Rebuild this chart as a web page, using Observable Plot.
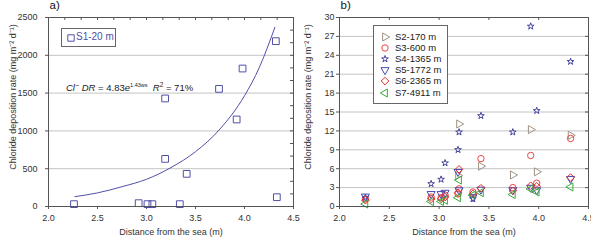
<!DOCTYPE html>
<html>
<head>
<meta charset="utf-8">
<script src="https://cdn.jsdelivr.net/npm/d3@7"></script>
<script src="https://cdn.jsdelivr.net/npm/@observablehq/plot@0.6"></script>
<style>
  body { margin: 0; background: #fff; }
  #wrap { position: relative; width: 591px; height: 240px; display: flex; font-family: "Liberation Sans", Arial, sans-serif; }
  .legend { position: absolute; border: 1px solid #666; background: #fff; box-sizing: border-box; }
  .lrow { position: absolute; font-size: 9.5px; line-height: 1; white-space: nowrap; }
  .eq { position: absolute; font-size: 9.5px; white-space: nowrap; color: #222; }
  .eq sup { font-size: 5.5px; vertical-align: 4px; }
</style>
</head>
<body>
<div id="wrap"></div>
<script>
// ---------- Panel a data ----------
const xA = [2.26, 2.92, 3.01, 3.06, 3.19, 3.19, 3.34, 3.41, 3.74, 3.92, 3.98, 4.32, 4.33];
const s1 = [31, 44, 31, 31, 1429, 630, 31, 432, 1556, 1151, 1825, 2187, 123];
// fitted curve
const fitX = [2.27, 2.5, 2.75, 3.0, 3.25, 3.5, 3.75, 4.0, 4.15, 4.31];
const fitY = [130, 180, 262, 360, 515, 725, 1025, 1465, 1835, 2370];
const yTicksA = [0, 500, 1000, 1500, 2000, 2500];

// ---------- Panel b data ----------
const xB = [2.26, 2.92, 3.02, 3.06, 3.19, 3.20, 3.34, 3.42, 3.74, 3.92, 3.98, 4.32];
const s2 = [null, null, null, null, 4.9, 13.1, null, 6.4, 5.0, 12.2, 5.5, 11.3];
const s3 = [1.2, 1.5, 1.4, 1.8, 2.0, 2.8, 2.3, 7.6, 3.0, 8.1, 3.7, 10.8];
const s4 = [1.4, 3.6, 4.3, 6.9, 9.0, 11.8, 1.2, 14.4, 11.8, 28.6, 15.2, 23.0];
const s5 = [1.6, 2.0, 2.0, 2.2, 5.5, 2.6, 1.5, 2.7, 2.6, 3.0, 2.6, 4.4];
const s6 = [1.0, 1.2, 1.2, 1.5, 2.2, 5.9, 2.0, 2.9, 2.5, 3.3, 3.2, 4.6];
const s7 = [0.4, 0.8, 0.8, 1.0, 1.4, 4.2, 1.8, 2.2, 1.9, 2.8, 2.3, 3.1];
const seriesNames = ["S2-170 m", "S3-600 m", "S4-1365 m", "S5-1772 m", "S6-2365 m", "S7-4911 m"];
const seriesValues = [s2, s3, s4, s5, s6, s7];
const yTicksB = [0, 3, 6, 9, 12, 15, 18, 21, 24, 27, 30];
const xTicks = [2.0, 2.5, 3.0, 3.5, 4.0, 4.5];

// ---------- styles ----------
const seriesStyle = [
  {symbol: "triangle", rotate: 90, color: "#a09282", r: 3},
  {symbol: "circle", rotate: 0, color: "#ee4444", r: 3.2},
  {symbol: "star", rotate: 0, color: "#45459e", r: 2.1},
  {symbol: "triangle", rotate: 180, color: "#4848b0", r: 3},
  {symbol: "diamond2", rotate: 0, color: "#e02828", r: 3.4},
  {symbol: "triangle", rotate: -90, color: "#3aa83a", r: 3}
];
const blueA = "#5050a8";
const font = "'Liberation Sans', Arial, sans-serif";
const yLabel = "Chloride deposition rate (mg m\u207B\u00B2 d\u207B\u00B9)";
const xLabel = "Distance from the sea (m)";

const dataA = xA.map((x, i) => ({x, y: s1[i]}));
const fitData = fitX.map((x, i) => ({x, y: fitY[i]}));
const dataB = [];
seriesValues.forEach((vals, k) => vals.forEach((v, i) => { if (v != null) dataB.push({x: xB[i], y: v, s: seriesNames[k]}); }));

function panel({width, ml, mr, yDomain, yTicks, topTicks, rightTicks, tickPad, tag, extra}) {
  const mt = 17, mb = 34, h = 240;
  const plotW = width - ml - mr, plotH = h - mt - mb;
  const grid = yTicks.filter(v => v > yDomain[0] && v < yDomain[1]);
  return Plot.plot({
    width, height: h, marginLeft: ml, marginRight: mr, marginTop: mt, marginBottom: mb,
    style: {background: "none", overflow: "visible", fontFamily: font, fontSize: "9px", color: "#333"},
    x: {domain: [2, 4.5]},
    y: {domain: yDomain},
    marks: [
      Plot.gridY(grid, {stroke: "#c4c4c4", strokeOpacity: 1}),
      Plot.axisX(xTicks, {tickSize: 3, tickPadding: 5, tickFormat: d3.format(".1f"), label: null, stroke: "#555"}),
      Plot.axisY(yTicks, {tickSize: 3, tickPadding: tickPad, tickFormat: d => String(d), label: null, stroke: "#555"}),
      Plot.tickX(topTicks, {x: d => d, insetBottom: plotH - 3, stroke: "#555"}),
      Plot.tickY(rightTicks, {y: d => d, insetLeft: plotW - 3, stroke: "#555"}),
      ...extra,
      Plot.frame({stroke: "#555"}),
      Plot.text([yLabel], {frameAnchor: "left", textAnchor: "middle", lineAnchor: "middle", rotate: -90, dx: -(ml - 13), dy: -15, fontSize: 9, fill: "#333"}),
      Plot.text([xLabel], {frameAnchor: "bottom", textAnchor: "middle", lineAnchor: "middle", dy: 26, fontSize: 9, fill: "#333"}),
      Plot.text([tag], {frameAnchor: "top-left", textAnchor: "start", lineAnchor: "middle", dx: 1, dy: -12, fontSize: 11.5, fill: "#111"})
    ]
  });
}

const topA = d3.range(0, 16).map(i => 2 + i / 6);
const rightA = d3.range(0, 16).map(i => i * 2500 / 15);

const plotA = panel({
  width: 295, ml: 48, mr: 2, yDomain: [0, 2500], yTicks: yTicksA,
  topTicks: topA, rightTicks: rightA, tickPad: 8, tag: "a)",
  extra: [
    Plot.line(fitData, {x: "x", y: "y", curve: "monotone-x", stroke: blueA, strokeWidth: 1}),
    Plot.dot(dataA, {x: "x", y: "y", symbol: "square", r: 3.8, stroke: blueA, fill: "none", strokeWidth: 1})
  ]
});

const plotB = panel({
  width: 296, ml: 44, mr: 3, yDomain: [0, 30], yTicks: yTicksB,
  topTicks: xTicks, rightTicks: yTicksB, tickPad: 2, tag: "b)",
  extra: seriesNames.map((name, k) => Plot.dot(dataB.filter(d => d.s === name), {
    x: "x", y: "y", symbol: seriesStyle[k].symbol, rotate: seriesStyle[k].rotate,
    r: seriesStyle[k].r, stroke: seriesStyle[k].color, fill: "none", strokeWidth: 1
  }))
});

const wrap = document.getElementById("wrap");
wrap.appendChild(plotA);
wrap.appendChild(plotB);

// ---------- legends and annotation ----------
const symMap = {triangle: d3.symbolTriangle, circle: d3.symbolCircle, star: d3.symbolStar, diamond2: d3.symbolDiamond2, square: d3.symbolSquare};
function glyph(style, cx, cy) {
  const s = document.createElementNS("http://www.w3.org/2000/svg", "svg");
  s.setAttribute("width", 12); s.setAttribute("height", 12);
  s.style.position = "absolute"; s.style.left = (cx - 6) + "px"; s.style.top = (cy - 6) + "px"; s.style.overflow = "visible";
  const p = document.createElementNS("http://www.w3.org/2000/svg", "path");
  p.setAttribute("d", d3.symbol(symMap[style.symbol], Math.PI * style.r * style.r)());
  p.setAttribute("transform", `translate(6,6) rotate(${style.rotate || 0})`);
  p.setAttribute("fill", "none"); p.setAttribute("stroke", style.color); p.setAttribute("stroke-width", 1);
  s.appendChild(p);
  return s;
}

const legA = document.createElement("div");
legA.className = "legend";
Object.assign(legA.style, {left: "61px", top: "28px", width: "55px", height: "19px"});
wrap.appendChild(legA);
wrap.appendChild(glyph({symbol: "square", r: 3.6, color: blueA}, 71, 37.5));
const tA = document.createElement("div");
tA.className = "lrow"; tA.textContent = "S1-20 m";
Object.assign(tA.style, {left: "76px", top: "32px", color: blueA, fontSize: "10px"});
wrap.appendChild(tA);

const legB = document.createElement("div");
legB.className = "legend";
Object.assign(legB.style, {left: "373px", top: "25px", width: "75px", height: "79px"});
wrap.appendChild(legB);
seriesNames.forEach((name, k) => {
  const cy = 36.5 + k * 11.2;
  wrap.appendChild(glyph(seriesStyle[k], 385, cy));
  const t = document.createElement("div");
  t.className = "lrow"; t.textContent = name;
  Object.assign(t.style, {left: "395px", top: (cy - 5) + "px", color: "#222"});
  wrap.appendChild(t);
});

const eq = document.createElement("div");
eq.className = "eq";
eq.innerHTML = "<i>Cl</i><sup style='font-size:7px;vertical-align:3px'>\u2212</sup> <i>DR</i> = 4.83<i>e</i><sup>1.43ws</sup>&nbsp;&nbsp;<i>R</i><sup style='font-size:6.5px'>2</sup> = 71%";
Object.assign(eq.style, {left: "66px", top: "81px"});
wrap.appendChild(eq);
</script>
</body>
</html>
